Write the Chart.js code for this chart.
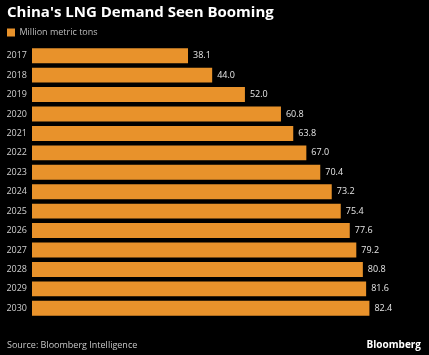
<!DOCTYPE html>
<html>
<head>
<meta charset="utf-8">
<script src="https://cdn.jsdelivr.net/npm/chart.js@4"></script>
<style>
  html, body { margin: 0; padding: 0; background: #000; }
  #wrap { width: 429px; height: 355px; }
</style>
</head>
<body>
<div id="wrap"><canvas id="c" width="429" height="355"></canvas></div>
<script>
const categories = ['2017', '2018', '2019', '2020', '2021', '2022', '2023', '2024', '2025', '2026', '2027', '2028', '2029', '2030'];
const demand = [38.1, 44.0, 52.0, 60.8, 63.8, 67.0, 70.4, 73.2, 75.4, 77.6, 79.2, 80.8, 81.6, 82.4];
const seriesName = 'Million metric tons';
const chartTitle = "China's LNG Demand Seen Booming";
const sourceText = 'Source: Bloomberg Intelligence';
const brandText = 'Bloomberg';

const FONT = "'Open Sans', 'Liberation Sans', sans-serif";
const BAR = '#E8922B';

const legendGap = {
  id: 'legendGap',
  beforeInit(chart) {
    const fit = chart.legend.fit;
    chart.legend.fit = function () { fit.call(this); this.height -= 1; };
  }
};

const valueLabels = {
  id: 'valueLabels',
  afterDatasetsDraw(chart) {
    const ctx = chart.ctx;
    const meta = chart.getDatasetMeta(0);
    ctx.save();
    ctx.font = '9px ' + FONT;
    ctx.fillStyle = '#e6e6e6';
    ctx.textAlign = 'left';
    ctx.textBaseline = 'middle';
    meta.data.forEach((bar, i) => {
      ctx.fillText(chart.data.datasets[0].data[i].toFixed(1), bar.x + 5, bar.y);
    });
    ctx.restore();
  }
};

const footer = {
  id: 'footer',
  afterDraw(chart) {
    const ctx = chart.ctx;
    ctx.save();
    ctx.textBaseline = 'middle';
    ctx.font = '9px ' + FONT;
    ctx.fillStyle = '#c8c8c8';
    ctx.textAlign = 'left';
    ctx.fillText(sourceText, 7, 345);
    ctx.font = 'bold 10px ' + FONT;
    ctx.fillStyle = '#ffffff';
    ctx.textAlign = 'right';
    ctx.fillText(brandText, 421, 345);
    ctx.restore();
  }
};

new Chart(document.getElementById('c'), {
  type: 'bar',
  data: {
    labels: categories,
    datasets: [{
      label: seriesName,
      data: demand,
      backgroundColor: BAR,
      borderWidth: 0,
      barPercentage: 0.77,
      categoryPercentage: 1.0
    }]
  },
  options: {
    indexAxis: 'y',
    responsive: false,
    animation: false,
    devicePixelRatio: 1,
    layout: { padding: { left: 7, right: 8, top: 4, bottom: 37 } },
    scales: {
      x: { display: false, min: 0, max: 95 },
      y: {
        grid: { display: false, drawTicks: false },
        border: { display: false },
        ticks: { color: '#cfcfcf', font: { family: FONT, size: 9 }, padding: 5 },
        afterFit(scale) { scale.width = 25; }
      }
    },
    plugins: {
      title: {
        display: true,
        text: chartTitle,
        align: 'start',
        color: '#ffffff',
        font: { family: FONT, size: 15, weight: 'bold' },
        padding: { top: 0, bottom: 6 }
      },
      legend: {
        display: true,
        align: 'start',
        labels: {
          boxWidth: 8,
          boxHeight: 8,
          padding: 0,
          color: '#bdbdbd',
          font: { family: FONT, size: 9 }
        }
      },
      tooltip: { enabled: false }
    }
  },
  plugins: [legendGap, valueLabels, footer]
});
</script>
</body>
</html>
